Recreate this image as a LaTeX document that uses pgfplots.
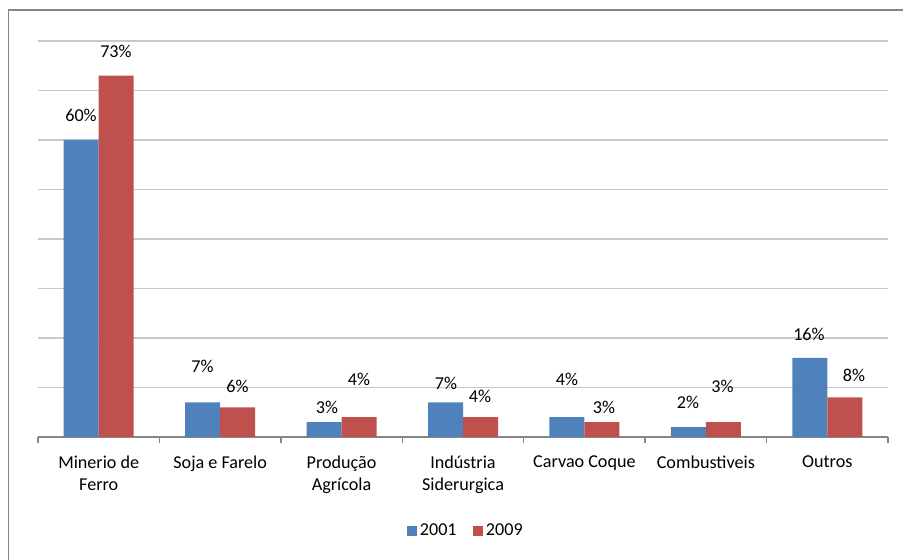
\documentclass[border=0pt]{standalone}
\usepackage{fontspec}
\setmainfont{Carlito}
\usepackage{pgfplots}
\pgfplotsset{compat=1.18}

\definecolor{barblue}{RGB}{79,129,189}
\definecolor{barred}{RGB}{192,80,77}
\definecolor{gridgray}{RGB}{200,200,200}
\definecolor{axisgray}{RGB}{134,134,134}
\newcommand{\chartfont}{\fontsize{13.6}{16.5}\selectfont}

\begin{document}
\begin{tikzpicture}[x=1pt,y=1pt]
\useasboundingbox (0,0) rectangle (677.25,420);
% chart frame (left and top edges)
\draw[axisgray, line width=1pt] (6.4,0) -- (6.4,412.5) -- (677.25,412.5);
\begin{axis}[
  at={(28.5pt,92.25pt)}, anchor=south west,
  scale only axis, width=637.5pt, height=297pt,
  xmin=-0.5, xmax=6.5, ymin=0, ymax=80,
  ybar=0pt, bar width=26.25pt,
  axis x line*=bottom, axis y line*=left,
  x axis line style={axisgray, line width=1pt, -},
  y axis line style={draw=none},
  ytick={10,20,...,80}, yticklabels={},
  ymajorgrids, major grid style={gridgray, line width=1pt},
  xtick={0,...,6},
  xticklabels={{Minerio de\\Ferro},{Soja e Farelo},{Produção\\Agrícola},{Indústria\\Siderurgica},{Carvao Coque},{Combustiveis},{Outros}},
  minor xtick={-0.5,0.5,...,6.5},
  tick align=outside, xtick pos=bottom, ytick pos=left,
  major tick length=0pt, minor tick length=4.5pt,
  minor x tick style={axisgray, line width=1pt},
  ytick style={draw=none},
  xticklabel style={font=\chartfont, align=center, text=black, yshift=-10.5pt},
  legend style={at={(0.5035,-0.2374)}, anchor=center, draw=none, fill=none,
    legend columns=2, font=\chartfont,
    /tikz/every even column/.append style={column sep=10pt}},
  clip=false,
]
\addplot[fill=barblue, draw=none,
  legend image code/.code={\fill[barblue] (0pt,-4pt) rectangle (8pt,4pt);}]
  coordinates {(0,60) (1,7) (2,3) (3,7) (4,4) (5,2) (6,16)};
\addlegendentry{2001}
\addplot[fill=barred, draw=none,
  legend image code/.code={\fill[barred] (0pt,-4pt) rectangle (8pt,4pt);}]
  coordinates {(0,73) (1,6) (2,4) (3,4) (4,3) (5,3) (6,8)};
\addlegendentry{2009}

% value labels
\begin{scope}[every node/.style={font=\chartfont, inner sep=0pt}]
\node at (axis cs:-0.146,65.05) {60\%};
\node at (axis cs:0.142,77.98) {73\%};
\node at (axis cs:0.855,14.34) {7\%};
\node at (axis cs:1.143,10.30) {6\%};
\node at (axis cs:1.880,5.96) {3\%};
\node at (axis cs:2.144,11.72) {4\%};
\node at (axis cs:2.860,10.91) {7\%};
\node at (axis cs:3.140,8.28) {4\%};
\node at (axis cs:3.856,11.62) {4\%};
\node at (axis cs:4.161,6.06) {3\%};
\node at (axis cs:4.853,6.97) {2\%};
\node at (axis cs:5.137,10.30) {3\%};
\node at (axis cs:5.849,20.81) {16\%};
\node at (axis cs:6.220,12.53) {8\%};
\end{scope}
\end{axis}
\end{tikzpicture}
\end{document}
